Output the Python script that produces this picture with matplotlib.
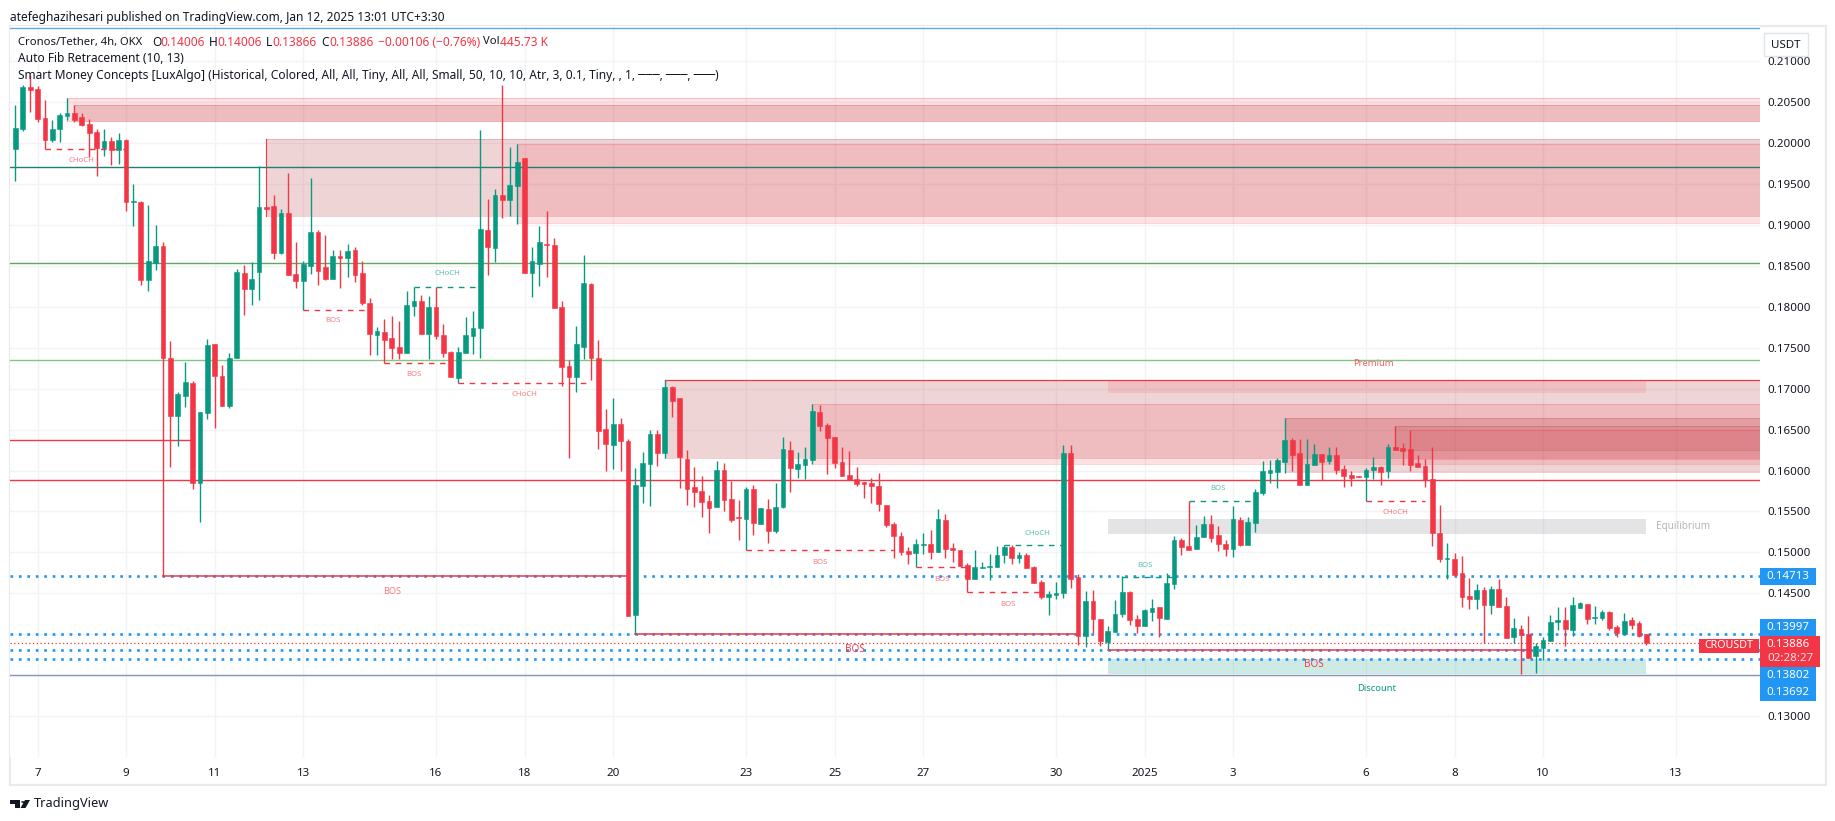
import matplotlib
matplotlib.use("Agg")
import matplotlib.pyplot as plt
from matplotlib.patches import Rectangle, Polygon, Circle, FancyBboxPatch

W, H = 1835, 821
plt.rcParams['font.family'] = ['Noto Sans', 'DejaVu Sans']

opens = [.19935,.20175,.20687,.20663,.20309,.20041,.20175,.20333,.2037,.20321,.20236,.20138,.19943,.20028,.19919,.20041,.19285,.19285,.18333,.18537,
 .18748,.1737,.16663,.16907,.17065,.15846,.16699,.17541,.1715,.16785,.1737,.18415,.18224,.18431,.19224,.19236,.18663,.1915,.18406,.18321,
 .18504,.18919,.18492,.18346,.18626,.18602,.18699,.18415,.18053,.1765,.17687,.17614,.17504,.17431,.18016,.18077,.17663,.18004,.1765,.17443,
 .17126,.17431,.17638,.17736,.18943,.18724,.1937,.19309,.1948,.19821,.18419,.18528,.18772,.1876,.18004,.17272,.17138,.17504,.18285,.1737,
 .16504,.16309,.16565,.16358,.14236,.15809,.16077,.16443,.16211,.17016,.16882,.16138,.15797,.15748,.15626,.15553,.16004,.1565,.15431,.15406,
 .15772,.15346,.15528,.1526,.15553,.16248,.16016,.16065,.16126,.16711,.16553,.16406,.16102,.15943,.15894,.15858,.15846,.15809,.15577,.15346,
 .15199,.15016,.14992,.15089,.15102,.15004,.15394,.15053,.15029,.14846,.14675,.14809,.14821,.14821,.14967,.15065,.14931,.14967,.14821,.14638,
 .14455,.14475,.14504,.16211,.14699,.1398,.14407,.14187,.13907,.14028,.14248,.14516,.14187,.14102,.14272,.14333,.14187,.14614,.1515,.15077,
 .15041,.15187,.15346,.15211,.15102,.15041,.15394,.15089,.15358,.15724,.15967,.1598,.16102,.1637,.16211,.15821,.16065,.16199,.16114,.16187,
 .16016,.15943,.15931,.15919,.16004,.16041,.15992,.16285,.16272,.1626,.16089,.16053,.15894,.15236,.14919,.14919,.14748,.14467,.14431,.14541,
 .14358,.14553,.14345,.13967,.14065,.14004,.13728,.13833,.13919,.1415,.14175,.14053,.14321,.1437,.14199,.14199,.14272,.1409,.14004,.14175,
 .14138,.14006]
closes = [.20183,.20687,.2065,.20297,.20041,.20175,.20346,.2037,.20285,.20224,.20126,.19943,.20028,.19919,.20041,.19285,.19297,.18333,.18565,.18748,
 .1737,.16663,.16931,.17077,.15846,.16711,.17528,.1715,.16785,.1737,.18431,.18224,.18341,.19224,.19199,.18663,.1915,.18394,.18321,.18528,
 .18919,.18443,.18346,.18626,.18602,.18687,.18394,.18041,.17663,.177,.1759,.17492,.17431,.18028,.18077,.17663,.18004,.17638,.17431,.17138,
 .17443,.1765,.17736,.18955,.18736,.1937,.19309,.19492,.19772,.18415,.18565,.18797,.1876,.17992,.1726,.17138,.17541,.18297,.1737,.1648,
 .16321,.16565,.16358,.14224,.15821,.1609,.16443,.16211,.17016,.16846,.16163,.15772,.15736,.15614,.15541,.16004,.15638,.15394,.15419,.15772,
 .15358,.15541,.1526,.15553,.1626,.16028,.16077,.16138,.16724,.1654,.16394,.1609,.15931,.15882,.15833,.15833,.15809,.1559,.15333,.15199,
 .15004,.1498,.15102,.15102,.15004,.15407,.15041,.15029,.14833,.14675,.14821,.14821,.14833,.14967,.15065,.14931,.14967,.14809,.14626,.14455,
 .14492,.14504,.16211,.14675,.1398,.14407,.14187,.13919,.14041,.14248,.14516,.14175,.14102,.14297,.14321,.14199,.14626,.1515,.15065,.15029,
 .15187,.15346,.15175,.15102,.15041,.15407,.15089,.1537,.15736,.15992,.16004,.16126,.1637,.16187,.15821,.16077,.16199,.16102,.16187,.16004,
 .15931,.15906,.15919,.16004,.16041,.1598,.16285,.16248,.16236,.16065,.16041,.15882,.15236,.14919,.14931,.14724,.14455,.14431,.14541,.14358,
 .14553,.14333,.13955,.14077,.13992,.13711,.13858,.13931,.1415,.14175,.14065,.14358,.14382,.14187,.14211,.14272,.14077,.14016,.14163,.14114,
 .1398,.13886]
highs = [.20467,.20711,.20833,.20699,.20528,.20285,.2037,.20553,.20467,.2037,.20297,.20171,.20171,.20073,.2013,.20053,.19504,.19297,.19248,.19004,
 .18793,.17577,.16955,.17321,.1709,.16711,.17602,.17541,.17285,.17431,.18463,.18516,.18553,.19724,.19224,.1937,.19199,.19638,.18797,.18565,
 .19577,.18943,.18882,.18699,.187,.18772,.18736,.18565,.1811,.17748,.17846,.17894,.17821,.18199,.18244,.1815,.18138,.18244,.17785,.17455,
 .17504,.1787,.17955,.20163,.19321,.19443,.20711,.19955,.19992,.19821,.18736,.18992,.19175,.18846,.18077,.17346,.17772,.18638,.18297,.17589,
 .16748,.16882,.16638,.16382,.16028,.16224,.16492,.16492,.1711,.17028,.16882,.16248,.16041,.15931,.15699,.16114,.16089,.1587,.15638,.15797,
 .15821,.15541,.1565,.15846,.16406,.16358,.16224,.16285,.16809,.16797,.16577,.16406,.16285,.16236,.16041,.15858,.15907,.15967,.15577,.1537,
 .15248,.15065,.15163,.15236,.15272,.15528,.15467,.15114,.15029,.1487,.15029,.14882,.1498,.15077,.1509,.1509,.15008,.14992,.14833,.14663,
 .14528,.14638,.16309,.16309,.14736,.14528,.14541,.14187,.14102,.14419,.14711,.14528,.14236,.14309,.14431,.14333,.14748,.15199,.15175,.1563,
 .15333,.15443,.15455,.15321,.1515,.15565,.15431,.15431,.15772,.16114,.16126,.1615,.16638,.16394,.16382,.16382,.16321,.16199,.16285,.16285,
 .16065,.16,.15931,.16028,.16163,.16053,.16321,.16541,.16333,.16492,.16187,.16138,.16285,.15577,.15114,.14992,.14955,.14687,.14614,.14577,
 .1459,.14675,.14455,.14199,.14114,.14224,.13894,.13967,.14236,.14333,.14333,.14455,.14394,.1437,.14346,.14297,.14285,.14114,.1426,.14211,
 .14163,.14006]
lows = [.19541,.20154,.20386,.20264,.19927,.2002,.2002,.20285,.20264,.20211,.19837,.19602,.19846,.19736,.19748,.19175,.18992,.18272,.18199,.18455,
 .14713,.16041,.16297,.16772,.15772,.1537,.16626,.16516,.16785,.1676,.1737,.17906,.18028,.18081,.19199,.18589,.1865,.18394,.18232,.17963,
 .18406,.18272,.1833,.18346,.18236,.1837,.18309,.18028,.17406,.17406,.17317,.17358,.17358,.17431,.17894,.17663,.17358,.17602,.17382,.17138,
 .17073,.17431,.17419,.1737,.18394,.18553,.19089,.19114,.19016,.18415,.18118,.1826,.1837,.17992,.17028,.1615,.16955,.17358,.17102,.1626,
 .15992,.16016,.15992,.14224,.13997,.15602,.15565,.16053,.1615,.1665,.15785,.15577,.15553,.15431,.15236,.15553,.15504,.1537,.1515,.15024,
 .15211,.15346,.15114,.15236,.15541,.15736,.15907,.15894,.16077,.1648,.15955,.16028,.15931,.15882,.15809,.15663,.15602,.15504,.15309,.14931,
 .14967,.14858,.14817,.1498,.14919,.15004,.14931,.14882,.14833,.14512,.14675,.14809,.14663,.14821,.1487,.14858,.1487,.14809,.14626,.14431,
 .14236,.14431,.14443,.14565,.1387,.13846,.14016,.13858,.13813,.14028,.14211,.14114,.14016,.14102,.14163,.13967,.14187,.14553,.14967,.15029,
 .15041,.15187,.15126,.1502,.14955,.14943,.15077,.15089,.15248,.15699,.15846,.15785,.15967,.15992,.15821,.15821,.16065,.15882,.16077,.15955,
 .15797,.15809,.15919,.15626,.15894,.15821,.15906,.16248,.16065,.15992,.16041,.15797,.15077,.14882,.14675,.14711,.14333,.14309,.14309,.13894,
 .14248,.14333,.13955,.13894,.13516,.13711,.13528,.13687,.13919,.14053,.13858,.1398,.14321,.14126,.14126,.14175,.14053,.13967,.14004,.14065,
 .13966,.13866]

price_ticks = [.13,.135,.14,.145,.15,.155,.16,.165,.17,.175,.18,.185,.19,.195,.20,.205,.21]
day_idx = [3,15,27,39,57,69,81,99,111,123,141,153,165,183,195,207,225]
day_lbl = ['7','9','11','13','16','18','20','23','25','27','30','2025','3','6','8','10','13']

# zones: start bar, top, bottom, colour, alpha
end_bar = 221
zones_open = [(7,.20553,.20272,'#f23645',.15),(8,.20467,.20272,'#b22833',.2),(34,.20049,.19106,'#b22833',.2),
              (68,.19992,.19024,'#f23645',.15),(88,.17106,.16154,'#b22833',.2),(108,.16809,.16077,'#f23645',.15),
              (172,.16638,.15976,'#b22833',.2),(187,.16541,.16256,'#b22833',.14),(189,.16492,.16138,'#f23645',.1)]
zones_pd = [(148,.17106,.16943,'#f23645',.13),(148,.15406,.15224,'#787b86',.2),(148,.13695,.13512,'#089981',.2)]
fib_full = [(.21405,'#64a8e8'),(.19707,'#1f7f70'),(.18537,'#5da85d'),(.17354,'#81c784'),(.1589,'#f23645'),(.13506,'#8a93bd')]
dotted_blue = [.14713,.13997,.13802,.13692]
GREEN, RED = '#089981', '#f23645'
# structure: start, end, price, colour, dashed, label, label bar, label price, size
structure = [(4,15,.19927,RED,True,'CHoCH',9,.19789,5.6),(54,63,.18244,GREEN,True,'CHoCH',58.5,.18402,5.6),
 (39,47.5,.17963,RED,True,'BOS',43,.17829,5.6),(50,59,.17317,RED,True,'BOS',54,.17171,5.6),
 (60,78,.17073,RED,True,'CHoCH',69,.16927,5.6),(20,83,.14713,RED,False,'BOS',51,.1452,6.6),
 (99,119,.15024,RED,True,'BOS',109,.14874,5.6),(122,129,.14817,RED,True,'BOS',125.5,.14667,5.6),
 (129,139,.14512,RED,True,'BOS',134.5,.14362,5.6),(134,142,.15085,GREEN,True,'CHoCH',138.5,.15228,5.6),
 (159,168,.15622,GREEN,True,'BOS',163,.15776,5.6),(150,157,.14699,GREEN,True,'BOS',153,.14837,5.6),
 (183,191,.15622,RED,True,'CHoCH',187,.15484,5.6),(84,144,.13997,RED,False,'BOS',113.7,.13817,7.2),
 (148,205,.13809,RED,False,'BOS',176,.13626,7.2)]

fig = plt.figure(figsize=(W/100, H/100), dpi=100, facecolor='white')
L, R, T, B = 10, 1760, 26, 757
ax = fig.add_axes([L/W, 1-B/H, (R-L)/W, (B-T)/H])
ax.set_xlim((L-15.4)/7.38, (R-15.4)/7.38)
ax.set_ylim(.13-(B-716)/8183, .13+(716-T)/8183)
for s in ax.spines.values():
    s.set_visible(False)
ax.set_yticks(price_ticks)
ax.set_xticks(day_idx)
ax.set_yticklabels([f'{p:.5f}' for p in price_ticks])
ax.set_xticklabels(day_lbl)
ax.yaxis.tick_right()
ax.tick_params(length=0, labelsize=8.3, labelcolor='#131722')
ax.tick_params(axis='y', pad=5)
ax.tick_params(axis='x', pad=8)
for t, s in zip(ax.get_xticklabels(), day_lbl):
    if s == '2025':
        t.set_fontweight('bold')
ax.grid(True, color='#f2f3f5', lw=1)
ax.set_axisbelow(True)

x_end = ax.get_xlim()[1]
for st, top, bot, c, a in zones_open:
    ax.add_patch(Rectangle((st, bot), x_end-st, top-bot, fc=c, alpha=a, lw=0, zorder=1.5))
    ax.plot([st, x_end], [top, top], color=c, alpha=.22, lw=.7, zorder=1.6)
    ax.plot([st, x_end], [bot, bot], color=c, alpha=.22, lw=.7, zorder=1.6)
ax.plot([7, 7], [.20272, .20553], color=RED, alpha=.2, lw=.7, zorder=1.6)
ax.plot([34, 34], [.19106, .20049], color=RED, lw=.8, zorder=1.6)
for st, top, bot, c, a in zones_pd:
    ax.add_patch(Rectangle((st, bot), end_bar-st, top-bot, fc=c, alpha=a, lw=0, zorder=1.5))
ax.plot([88, x_end], [.17106, .17106], color=RED, lw=.9, zorder=2)
for p, c in fib_full:
    ax.axhline(p, color=c, lw=1, zorder=2)
ax.plot([ax.get_xlim()[0], 24], [.16378, .16378], color=RED, lw=1, zorder=2)
for p in dotted_blue:
    ax.axhline(p, color='#2196f3', lw=1.9, ls=(0, (1, 2.2)), zorder=2)
ax.axhline(closes[-1], color=RED, lw=.9, ls=(0, (1, 2)), zorder=2)

for i in range(len(opens)):
    c = GREEN if closes[i] >= opens[i] else RED
    ax.vlines(i, lows[i], highs[i], color=c, lw=1, zorder=3)
    ax.bar(i, abs(closes[i]-opens[i]), bottom=min(opens[i], closes[i]), width=.64, color=c, ec=c, lw=.4, zorder=3.1)

for a, b, p, c, dashed, lab, lx, ly, fs in structure:
    ax.plot([a, b], [p, p], color=c, lw=1 if dashed else 1.1, ls=(0, (4, 4)) if dashed else '-', zorder=4)
    ax.text(lx, ly, lab, color=c, alpha=.95 if fs > 7 else .65, fontsize=fs, ha='center', va='center', zorder=5)
ax.text(184, .17302, 'Premium', color=RED, alpha=.8, fontsize=6.8, ha='center', va='center', zorder=5)
ax.text(226, .15313, 'Equilibrium', color='#787b86', alpha=.55, fontsize=7.2, ha='center', va='center', zorder=5)
ax.text(184.5, .13337, 'Discount', color=GREEN, fontsize=6.8, ha='center', va='center', zorder=5)

# figure-level furniture, in pixel coordinates of the picture
def px(x, y):
    return x/W, 1-y/H
def rect(x0, y0, x1, y1, **kw):
    fig.add_artist(Rectangle(px(x0, y1), (x1-x0)/W, (y1-y0)/H, transform=fig.transFigure, **kw))
def txt(x, y, s, **kw):
    kw.setdefault('fontsize', 8.3)
    kw.setdefault('color', '#131722')
    kw.setdefault('va', 'center')
    fig.text(*px(x, y), s, **kw)

rect(9.5, 26, 1825.5, 785, fc='none', ec='#e8eaee', lw=1.6, zorder=0)
txt(10, 17, 'atefeghazihesari published on TradingView.com, Jan 12, 2025 13:01 UTC+3:30', fontsize=8.6)
y1 = 42
txt(18, y1, 'Cronos/Tether, 4h, OKX', fontsize=8.1)
for x, s, c, fs in [(152,'O','#131722',8.6),(160,'0.14006',RED,8.6),(209,'H','#131722',8.6),(217,'0.14006',RED,8.6),
                (266,'L','#131722',8.6),(272,'0.13866',RED,8.6),(321.5,'C','#131722',8.6),(329,'0.13886',RED,8.6),(378.4,'−0.00106 (−0.76%)',RED,8.6),
                (483,'Vol','#131722',8.1),(500,'445.73 K',RED,8.6)]:
    txt(x, y1, s, color=c, fontsize=fs)
txt(18, 59, 'Auto Fib Retracement (10, 13)', fontsize=8.6)
txt(18, 76, 'Smart Money Concepts [LuxAlgo] (Historical, Colored, All, All, Tiny, All, All, Small, 50, 10, 10, Atr, 3, 0.1, Tiny, , 1, ───, ───, ───)', fontsize=8.6)

rect(1764, 33, 1808, 56, fc='white', ec='#e0e3eb', lw=1)
txt(1786, 45, 'USDT', ha='center')

for y0, y1_, s in [(568,585,'0.14713'),(619.3,636,'0.13997'),(667,684,'0.13802'),(684,700.7,'0.13692')]:
    rect(1760, y0, 1816, y1_, fc='#2196f3', ec='none', zorder=6)
    txt(1788, (y0+y1_)/2, s, color='white', ha='center', zorder=7, fontweight='medium')
rect(1760, 636, 1820, 667, fc=RED, ec='none', zorder=6)
txt(1788, 644.5, '0.13886', color='white', ha='center', zorder=7, fontweight='medium')
txt(1790, 658.5, '02:28:27', color='white', alpha=.85, ha='center', zorder=7)
rect(1699, 638.7, 1759, 652.7, fc=RED, ec='none', zorder=6)
txt(1729, 645.5, 'CROUSDT', color='white', ha='center', zorder=7, fontsize=7.7)

# TradingView footer mark
rect(10, 800, 20, 803.5, fc='#131722', ec='none')
rect(15, 803.5, 20, 808, fc='#131722', ec='none')
fig.add_artist(Circle(px(23, 802), 1.9/W, transform=fig.transFigure, fc='#131722', ec='none'))
fig.add_artist(Polygon([px(25, 800), px(30, 800), px(25.5, 808), px(20.5, 808)], transform=fig.transFigure, fc='#131722', ec='none'))
txt(33.5, 803, 'TradingView', fontsize=9.2)

fig.savefig('out.png', dpi=100, facecolor='white')
